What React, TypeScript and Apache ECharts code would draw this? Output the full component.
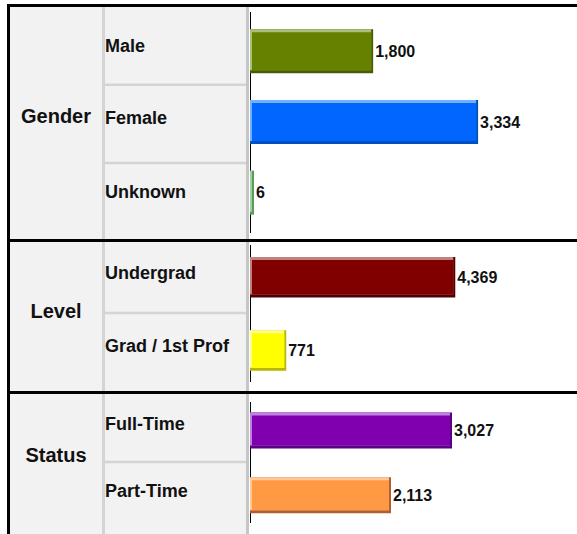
import React, { useEffect, useRef } from "react";
import * as echarts from "echarts";

// ---- data ----
const groupNames = ["Gender", "Level", "Status"];
const genderLabels = ["Male", "Female", "Unknown"];
const genderValues = [1800, 3334, 6];
const levelLabels = ["Undergrad", "Grad / 1st Prof"];
const levelValues = [4369, 771];
const statusLabels = ["Full-Time", "Part-Time"];
const statusValues = [3027, 2113];
const axisMax = [4780, 6960, 4900];

// ---- styles ----
const FONT = '"Liberation Sans", Arial, Helvetica, sans-serif';
const barColors = [
  [
    { main: "#668000", light: "#a9c07a", dark: "#4a5c00" },
    { main: "#0066ff", light: "#70b0ff", dark: "#0050c0" },
    { main: "#77bb77", light: "#9fd09f", dark: "#5a9a5a" },
  ],
  [
    { main: "#800000", light: "#c08080", dark: "#4f0000" },
    { main: "#ffff00", light: "#ffff90", dark: "#b8b800" },
  ],
  [
    { main: "#8000b0", light: "#c080e0", dark: "#5a0080" },
    { main: "#ff9944", light: "#ffc896", dark: "#b06030" },
  ],
];

// ---- layout ----
const BAR_LEFT = 250;
const gridLayout = [
  { top: 16, height: 212, barH: 44, axis: [12, 233], labelY: 116, lift: [10.6, 9, 1.6] },
  { top: 240.7, height: 146.4, barH: 40.5, axis: [245, 382], labelY: 311, lift: [8.6, 9] },
  { top: 398.1, height: 129.6, barH: 36, axis: [402, 523], labelY: 455, lift: [13, 8.6] },
];
const rowDividers = [83.5, 161.8, 311.8, 460.8];
const groupSeparators = [239, 391];

const fmt = (v: number) => v.toLocaleString("en-US");

export default function App() {
  const ref = useRef<HTMLDivElement>(null);
  useEffect(() => {
    if (!ref.current) return;
    const chart = echarts.init(ref.current, undefined, { renderer: "svg" });
    const labelsAll = [genderLabels, levelLabels, statusLabels];
    const valuesAll = [genderValues, levelValues, statusValues];

    const grids = gridLayout.map((g) => ({
      left: BAR_LEFT,
      right: 0,
      top: g.top,
      height: g.height,
      containLabel: false,
    }));
    const xAxes = gridLayout.map((_, i) => ({
      type: "value",
      gridIndex: i,
      min: 0,
      max: axisMax[i],
      show: false,
    }));
    const yAxes = gridLayout.map((g, i) => {
      const rich: any = {};
      g.lift.forEach((l, k) => {
        rich["s" + k] = {
          fontFamily: FONT,
          fontWeight: "bold",
          fontSize: 18,
          color: "#111",
          padding: [0, 0, l, 0],
        };
      });
      return {
        type: "category",
        gridIndex: i,
        inverse: true,
        data: labelsAll[i],
        z: 10,
        axisLine: { show: false },
        axisTick: { show: false },
        splitLine: { show: false },
        axisLabel: {
          align: "left",
          margin: BAR_LEFT - 105,
          formatter: (v: string, idx: number) => `{s${idx}|${v}}`,
          rich,
        },
      };
    });
    const BT = 3;
    const BS = 2;
    const series = gridLayout.map((g, gi) => ({
      type: "custom",
      xAxisIndex: gi,
      yAxisIndex: gi,
      z: 10,
      data: valuesAll[gi].map((v, i) => [v, i]),
      encode: { x: 0, y: 1 },
      renderItem: (params: any, api: any) => {
        const val = api.value(0);
        const idx = api.value(1);
        const p0 = api.coord([0, idx]);
        const p1 = api.coord([val, idx]);
        const h = g.barH;
        const w = Math.max(p1[0] - p0[0], 4);
        const x = p0[0];
        const y = p0[1] - h / 2;
        const c = barColors[gi][idx];
        return {
          type: "group",
          children: [
            { type: "rect", shape: { x, y, width: w, height: h }, style: { fill: c.dark } },
            {
              type: "rect",
              shape: { x, y, width: Math.max(w - BS, 0), height: h - BT },
              style: { fill: c.light },
            },
            {
              type: "rect",
              shape: { x: x + BS, y: y + BT, width: Math.max(w - 2 * BS, 0), height: h - 2 * BT },
              style: { fill: c.main },
            },
            {
              type: "text",
              x: x + w + 2,
              y: p0[1],
              style: {
                text: fmt(val),
                fill: "#111",
                fontFamily: FONT,
                fontWeight: "bold",
                fontSize: 16,
                align: "left",
                verticalAlign: "middle",
              },
            },
          ],
        };
      },
    }));

    const graphic: any[] = [
      { type: "rect", z: 0, shape: { x: 10, y: 7, width: 239, height: 527 }, style: { fill: "#f2f2f2" } },
      { type: "rect", z: 1, shape: { x: 246, y: 7, width: 3, height: 527 }, style: { fill: "#c6c6c6" } },
      { type: "rect", z: 1, shape: { x: 102, y: 7, width: 3, height: 527 }, style: { fill: "#d4d4d4" } },
      ...rowDividers.map((y) => ({
        type: "rect",
        z: 1,
        shape: { x: 105, y, width: 141, height: 2.5 },
        style: { fill: "#d4d4d4" },
      })),
      { type: "rect", z: 2, shape: { x: 7, y: 4, width: 570, height: 3 }, style: { fill: "#000" } },
      { type: "rect", z: 2, shape: { x: 7, y: 4, width: 3, height: 530 }, style: { fill: "#000" } },
      ...groupSeparators.map((y) => ({
        type: "rect",
        z: 2,
        shape: { x: 7, y, width: 570, height: 3 },
        style: { fill: "#000" },
      })),
      ...gridLayout.map((g) => ({
        type: "line",
        z: 2,
        shape: { x1: 250.5, y1: g.axis[0], x2: 250.5, y2: g.axis[1] },
        style: { stroke: "#000", lineWidth: 1 },
      })),
      ...gridLayout.map((g, i) => ({
        type: "text",
        z: 3,
        x: 56,
        y: g.labelY,
        style: {
          text: groupNames[i],
          fill: "#111",
          fontFamily: FONT,
          fontWeight: "bold",
          fontSize: 20,
          align: "center",
          verticalAlign: "middle",
        },
      })),
    ];

    chart.setOption({
      animation: false,
      backgroundColor: "#fff",
      grid: grids,
      xAxis: xAxes,
      yAxis: yAxes,
      series,
      graphic,
    } as any);
    return () => chart.dispose();
  }, []);
  return (
    <div
      ref={ref}
      style={{ position: "fixed", left: 0, top: 0, width: 577, height: 534 }}
    />
  );
}
